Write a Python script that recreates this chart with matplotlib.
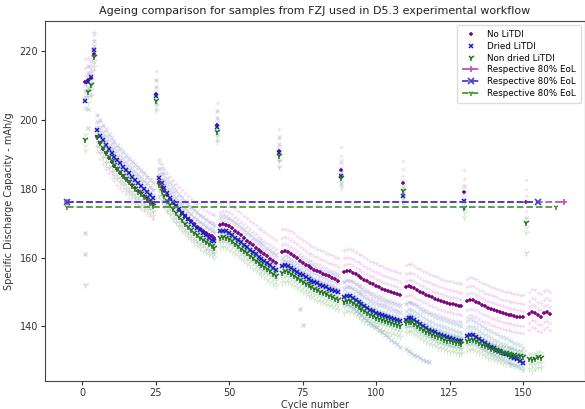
import numpy as np
import matplotlib
matplotlib.use("Agg")
import matplotlib.pyplot as plt

# ---------------- data ----------------
formation_cycles = [1, 2, 3]
checkup_cycles = [4, 25, 46, 67, 88, 109, 130, 151]
segment_bounds = [(5, 24), (26, 45), (47, 66), (68, 87), (89, 108), (110, 129), (131, 150)]

# No LiTDI (mean)
noli_form = [211.0, 211.5, 212.0]
noli_check = [219.0, 207.5, 198.5, 190.8, 185.5, 181.6, 178.9, 176.0]
noli_segs = [
    [195.0, 193.2, 191.6, 190.2, 188.9, 187.7, 186.6, 185.6, 184.6, 183.7, 182.8, 181.9, 181.0, 180.2, 179.4, 178.6, 177.9, 177.2, 176.5, 175.8],
    [182.0, 180.6, 179.3, 178.1, 177.0, 175.9, 174.9, 173.9, 173.0, 172.1, 171.3, 170.5, 169.7, 169.0, 168.3, 167.7, 167.1, 166.6, 166.2, 165.8],
    [169.3, 169.6, 169.5, 169.1, 168.5, 167.8, 167.1, 166.4, 165.6, 164.9, 164.2, 163.5, 162.8, 162.1, 161.5, 160.9, 160.3, 159.7, 159.1, 158.5],
    [161.7, 161.9, 161.6, 161.1, 160.5, 159.8, 159.1, 158.5, 157.9, 157.4, 156.9, 156.5, 156.1, 155.7, 155.3, 154.9, 154.5, 154.1, 153.7, 153.3],
    [155.8, 156.1, 156.0, 155.6, 155.1, 154.6, 154.1, 153.6, 153.1, 152.6, 152.2, 151.8, 151.4, 151.0, 150.6, 150.3, 150.0, 149.7, 149.4, 149.0],
    [151.3, 151.6, 151.5, 151.1, 150.6, 150.1, 149.6, 149.2, 148.8, 148.4, 148.0, 147.7, 147.4, 147.1, 146.8, 146.6, 146.4, 146.2, 146.0, 145.8],
    [147.3, 147.7, 147.6, 147.2, 146.7, 146.2, 145.8, 145.4, 145.0, 144.7, 144.4, 144.1, 143.8, 143.6, 143.4, 143.2, 143.0, 142.8, 142.7, 142.6],
]
noli_post_cycles = [152, 153, 154, 155, 156, 157, 158, 159]
noli_post = [143.5, 144.3, 144.0, 143.2, 142.8, 143.8, 144.2, 143.6]

# Dried LiTDI (mean)
dried_form = [205.5, 211.0, 212.5]
dried_check = [220.3, 207.0, 198.0, 190.4, 183.6, 177.8, 176.3, np.nan]
dried_segs = [
    [197.0, 195.4, 194.0, 192.7, 191.5, 190.4, 189.3, 188.3, 187.3, 186.3, 185.3, 184.4, 183.5, 182.6, 181.7, 180.8, 179.9, 179.0, 178.1, 177.2],
    [183.2, 181.6, 180.1, 178.7, 177.4, 176.2, 175.1, 174.0, 173.0, 172.0, 171.1, 170.2, 169.4, 168.6, 167.9, 167.2, 166.5, 165.8, 165.2, 164.7],
    [167.6, 167.8, 167.6, 167.1, 166.5, 165.8, 165.1, 164.4, 163.7, 163.0, 162.3, 161.6, 160.9, 160.2, 159.6, 159.0, 158.4, 157.8, 157.1, 156.5],
    [157.4, 157.8, 157.6, 157.1, 156.5, 155.9, 155.3, 154.8, 154.3, 153.8, 153.3, 152.9, 152.5, 152.1, 151.7, 151.3, 150.9, 150.6, 150.3, 150.0],
    [148.4, 148.9, 148.8, 148.3, 147.7, 147.1, 146.5, 145.9, 145.4, 144.9, 144.4, 144.0, 143.6, 143.3, 143.0, 142.7, 142.4, 142.1, 141.8, 141.5],
    [142.0, 142.5, 142.4, 141.9, 141.3, 140.7, 140.1, 139.6, 139.1, 138.7, 138.3, 137.9, 137.6, 137.3, 137.0, 136.7, 136.4, 136.2, 135.9, 135.7],
    [137.2, 137.6, 137.4, 136.9, 136.3, 135.7, 135.1, 134.6, 134.1, 133.6, 133.2, 132.8, 132.4, 132.0, 131.6, 131.2, 130.8, 130.4, 130.0, 129.3],
]

# Non dried LiTDI (mean)
nond_form = [194.0, 208.0, 210.0]
nond_check = [218.3, 205.5, 196.5, 189.4, 183.2, 179.2, 174.4, 170.0]
nond_segs = [
    [195.0, 193.3, 191.8, 190.4, 189.1, 187.9, 186.8, 185.7, 184.7, 183.7, 182.7, 181.8, 180.9, 180.0, 179.1, 178.3, 177.5, 176.7, 175.9, 175.1],
    [181.0, 179.4, 177.9, 176.5, 175.2, 174.0, 172.9, 171.8, 170.8, 169.8, 168.9, 168.0, 167.2, 166.4, 165.7, 165.0, 164.4, 163.8, 163.3, 162.9],
    [165.8, 166.0, 165.8, 165.3, 164.7, 164.0, 163.3, 162.6, 161.9, 161.2, 160.5, 159.8, 159.1, 158.4, 157.8, 157.2, 156.6, 156.0, 155.3, 154.6],
    [155.6, 156.0, 155.8, 155.3, 154.7, 154.1, 153.5, 152.9, 152.4, 151.9, 151.4, 150.9, 150.5, 150.1, 149.7, 149.3, 148.9, 148.5, 148.1, 147.8],
    [147.0, 147.4, 147.3, 146.8, 146.2, 145.6, 145.0, 144.4, 143.9, 143.4, 142.9, 142.5, 142.1, 141.8, 141.5, 141.2, 140.9, 140.6, 140.3, 140.0],
    [141.0, 141.4, 141.3, 140.8, 140.2, 139.6, 139.0, 138.5, 138.0, 137.6, 137.2, 136.8, 136.5, 136.2, 135.9, 135.7, 135.5, 135.3, 135.1, 134.9],
    [135.8, 136.2, 136.1, 135.7, 135.2, 134.7, 134.3, 133.9, 133.5, 133.2, 132.9, 132.6, 132.4, 132.2, 132.0, 131.8, 131.6, 131.4, 131.3, 131.2],
]
nond_post_cycles = [152, 153, 154, 155, 156]
nond_post = [130.5, 130.2, 130.6, 131.0, 130.8]

# individual cells: offsets from the group mean
noli_cell_offsets = [6.5, 4.0, 2.0, -2.5, -4.5]
dried_cell_offsets = [4.5, 2.5, 1.0, -2.0]
nond_cell_offsets = [1.5, -1.5, -3.0]

# isolated faint points
outlier_x_cycles = [1, 1, 2, 2, 74, 75]
outlier_x_values = [167.0, 161.0, 203.0, 197.7, 145.0, 140.5]
outlier_tri_cycles = [1, 151]
outlier_tri_values = [152.0, 161.4]
fast_cell_cycles = [89, 90, 91, 92, 93, 94, 95, 96, 97, 98, 99, 100, 101, 102, 103, 104, 105, 106, 107, 108,
                    110, 111, 112, 113, 114, 115, 116, 117, 118]
fast_cell_values = [147.0, 146.6, 146.0, 145.3, 144.6, 143.9, 143.2, 142.5, 141.8, 141.1, 140.4, 139.7, 139.0,
                    138.3, 137.6, 136.9, 136.2, 135.5, 134.8, 134.1, 133.4, 132.8, 132.3, 131.8, 131.3, 130.8,
                    130.3, 129.9, 129.6]

# 80% end-of-life reference lines
eol_values = [176.1, 176.1, 174.6]
eol_x = [[-5, 164], [-5, 155], [-5, 161]]

# ---------------- assemble ----------------
def assemble(form, check, segs, post_c=None, post_v=None):
    cyc, val = list(formation_cycles), list(form)
    for c, v in zip(checkup_cycles, check):
        cyc.append(c); val.append(v)
    for (a, b), s in zip(segment_bounds, segs):
        cyc += list(range(a, b + 1)); val += list(s)
    if post_c is not None:
        cyc += list(post_c); val += list(post_v)
    cyc = np.array(cyc, float); val = np.array(val, float)
    o = np.argsort(cyc, kind="stable")
    m = ~np.isnan(val[o])
    return cyc[o][m], val[o][m]

noli_c, noli_v = assemble(noli_form, noli_check, noli_segs, noli_post_cycles, noli_post)
dried_c, dried_v = assemble(dried_form, dried_check, dried_segs)
nond_c, nond_v = assemble(nond_form, nond_check, nond_segs, nond_post_cycles, nond_post)

# ---------------- plot ----------------
fig = plt.figure(figsize=(5.85, 4.09), dpi=100)
ax = fig.add_axes([0.077, 0.068, 0.923, 0.881])

c_noli, c_dried, c_nond = "#800080", "#1c1cc8", "#1e7a1e"
f_noli, f_dried, f_nond = "#d98ad9", "#7fa3cc", "#6fb56f"

for off in noli_cell_offsets:
    ax.plot(noli_c, noli_v + off, ls="none", marker="+", ms=3.5, mew=0.9, color=f_noli, alpha=0.28)
for off in dried_cell_offsets:
    ax.plot(dried_c, dried_v + off, ls="none", marker="x", ms=3.5, mew=0.9, color=f_dried, alpha=0.28)
for off in nond_cell_offsets:
    ax.plot(nond_c, nond_v + off, ls="none", marker="1", ms=4.5, mew=0.9, color=f_nond, alpha=0.28)
ax.plot(outlier_x_cycles, outlier_x_values, ls="none", marker="x", ms=3.5, mew=0.9, color="#8fa6bf", alpha=0.45)
ax.plot(outlier_tri_cycles, outlier_tri_values, ls="none", marker="1", ms=4.5, mew=0.9, color="#9aa0a0", alpha=0.45)
ax.plot(fast_cell_cycles, fast_cell_values, ls="none", marker="x", ms=3.5, mew=0.9, color="#8fa6bf", alpha=0.45)

ax.plot(noli_c, noli_v, ls="none", marker="+", ms=3.5, mew=1.1, color=c_noli, label="No LiTDI")
ax.plot(dried_c, dried_v, ls="none", marker="x", ms=3.5, mew=1.1, color=c_dried, label="Dried LiTDI")
ax.plot(nond_c, nond_v, ls="none", marker="1", ms=4.5, mew=1.1, color=c_nond, label="Non dried LiTDI")

eol_colors = ["#c050c0", "#4a3fc8", "#4f9a3a"]
eol_markers = ["+", "x", "1"]
for v, xs, col, mk in zip(eol_values, eol_x, eol_colors, eol_markers):
    ax.plot(xs, [v, v], ls="--", lw=1.3, marker=mk, ms=4, mew=1.2, color=col, label="Respective 80% EoL")

ax.set_xlim(-12.6, 171)
ax.set_ylim(124.1, 228.7)
ax.set_xticks([0, 25, 50, 75, 100, 125, 150])
ax.set_yticks([140, 160, 180, 200, 220])
ax.tick_params(labelsize=7, length=3, pad=2, colors="#333333")
for s in ax.spines.values():
    s.set_color("#444444")
ax.set_xlabel("Cycle number", fontsize=7, color="#333333", labelpad=1)
ax.set_ylabel("Specific Discharge Capacity - mAh/g", fontsize=7, color="#333333", labelpad=4)
ax.set_title("Ageing comparison for samples from FZJ used in D5.3 experimental workflow", fontsize=8, color="#222222", pad=5)
ax.legend(loc="upper right", fontsize=6.3, frameon=True, framealpha=1, edgecolor="#dddddd",
          handlelength=2.0, borderpad=0.6, labelspacing=0.3)

fig.savefig("out.png", dpi=100)
